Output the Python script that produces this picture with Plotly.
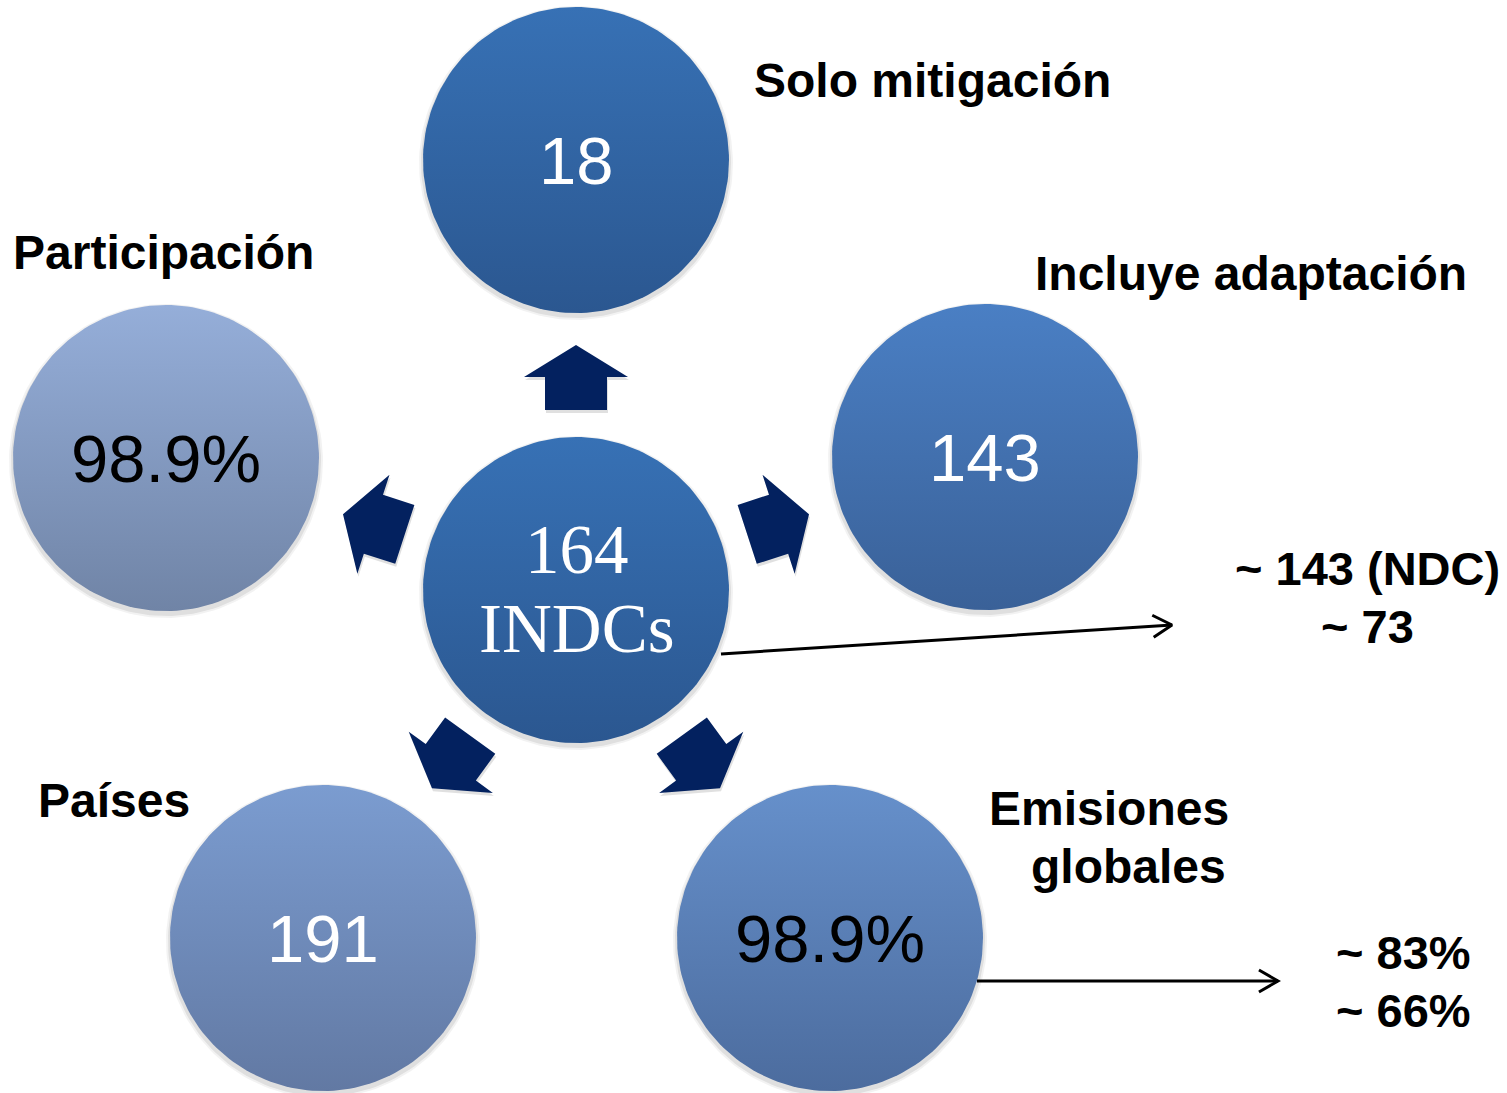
import numpy as np
import plotly.graph_objects as go

W, H = 1507, 1093

# ---- content ----
circle_values = ["18", "143", "98.9%", "191", "98.9%"]
circle_labels = ["Solo mitigación", "Incluye adaptación", "Emisiones<br>globales", "Países", "Participación"]
center_value = "164"
center_label = "INDCs"
note_upper = ["~ 143 (NDC)", "~ 73"]
note_lower = ["~ 83%", "~ 66%"]

# ---- layout (pixel coordinates) ----
center_xy = (576, 590)
circle_cx = [576, 985, 830, 323, 166]
circle_cy = [160, 457, 938, 938, 458]
arrow_angles = [90, 18, -54, -126, 162]
R = 153
circle_top = ["#3771B5", "#4A7FC4", "#6690CB", "#7B9CD0", "#95AED9"]
circle_bot = ["#2B5790", "#3A6198", "#4C6C9E", "#6279A3", "#7084A6"]
value_color = ["white", "white", "black", "white", "black"]
center_top, center_bot = "#3771B5", "#2B5790"
arrow_color = "#03215F"

# label positions: (x, y, xanchor)
label_pos = [
    [(752, 80, "left")],
    [(1033, 273, "left")],
    [(1231, 808, "right"), (1228, 866, "right")],
    [(36, 800, "left")],
    [(11, 252, "left")],
]

fig = go.Figure()
theta = np.linspace(0, 2 * np.pi, 181)


def add_circle(cx, cy, top, bot):
    # soft drop shadow
    for dr, a in [(4, 0.05), (2, 0.08)]:
        fig.add_trace(go.Scatter(
            x=cx + (R + dr) * np.cos(theta), y=cy + 3 + (R + dr) * np.sin(theta),
            mode="lines", line=dict(width=0), fill="toself",
            fillcolor=f"rgba(0,0,0,{a})", hoverinfo="skip", showlegend=False))
    fig.add_trace(go.Scatter(
        x=cx + R * np.cos(theta), y=cy + R * np.sin(theta),
        mode="lines", line=dict(width=0), fill="toself",
        fillgradient=dict(type="vertical", start=cy - R, stop=cy + R,
                          colorscale=[[0, top], [1, bot]]),
        hoverinfo="skip", showlegend=False))


for i in range(5):
    add_circle(circle_cx[i], circle_cy[i], circle_top[i], circle_bot[i])
add_circle(center_xy[0], center_xy[1], center_top, center_bot)

# block arrows
for ang in arrow_angles:
    a = np.radians(ang)
    d = np.array([np.cos(a), -np.sin(a)])
    n = np.array([np.sin(a), np.cos(a)])
    c = np.array(center_xy, dtype=float)
    tip = c + 245 * d
    hb = c + 213 * d
    se = c + 180 * d
    pts = [tip, hb + 52 * n, hb + 31 * n, se + 31 * n, se - 31 * n, hb - 31 * n, hb - 52 * n, tip]
    xs = [p[0] for p in pts]
    ys = [p[1] for p in pts]
    fig.add_trace(go.Scatter(x=[v + 1 for v in xs], y=[v + 3 for v in ys], mode="lines",
                             line=dict(width=0), fill="toself", fillcolor="rgba(0,0,0,0.12)",
                             hoverinfo="skip", showlegend=False))
    fig.add_trace(go.Scatter(x=xs, y=ys, mode="lines", line=dict(width=0), fill="toself",
                             fillcolor=arrow_color, hoverinfo="skip", showlegend=False))


# thin line arrows
def line_arrow(x0, y0, x1, y1):
    v = np.array([x1 - x0, y1 - y0], dtype=float)
    v /= np.linalg.norm(v)
    L = 22
    out = []
    for s in (1, -1):
        ca, sa = np.cos(np.radians(30 * s)), np.sin(np.radians(30 * s))
        r = np.array([v[0] * ca - v[1] * sa, v[0] * sa + v[1] * ca])
        out.append((x1 - L * r[0], y1 - L * r[1]))
    fig.add_trace(go.Scatter(x=[x0, x1, None, out[0][0], x1, out[1][0]],
                             y=[y0, y1, None, out[0][1], y1, out[1][1]],
                             mode="lines", line=dict(color="black", width=3),
                             hoverinfo="skip", showlegend=False))


line_arrow(721, 654, 1172, 625)
line_arrow(977, 981, 1278, 981)

ann = []
sans = "Liberation Sans, Arial, sans-serif"
for i in range(5):
    ann.append(dict(x=circle_cx[i], y=circle_cy[i], text=circle_values[i], showarrow=False,
                    font=dict(family=sans, size=67, color=value_color[i]),
                    xanchor="center", yanchor="middle"))
    for (lx, ly, xa), txt in zip(label_pos[i], circle_labels[i].split("<br>")):
        ann.append(dict(x=lx, y=ly, text=txt, showarrow=False, xanchor=xa, yanchor="middle",
                        font=dict(family=sans, size=48, color="black", weight="bold")))

serif = "Liberation Serif, Times New Roman, serif"
ann.append(dict(x=577, y=550, text=center_value, showarrow=False, xanchor="center", yanchor="middle",
                font=dict(family=serif, size=69, color="white")))
ann.append(dict(x=577, y=629, text=center_label, showarrow=False, xanchor="center", yanchor="middle",
                font=dict(family=serif, size=69, color="white")))

for txt, yy in zip(note_upper, [568, 626]):
    ann.append(dict(x=1367, y=yy, text=txt, showarrow=False, xanchor="center", yanchor="middle",
                    font=dict(family=sans, size=47, color="black", weight="bold")))
for txt, yy in zip(note_lower, [952, 1010]):
    ann.append(dict(x=1473, y=yy, text=txt, showarrow=False, xanchor="right", yanchor="middle",
                    font=dict(family=sans, size=47, color="black", weight="bold")))

fig.update_layout(
    width=W, height=H, margin=dict(l=0, r=0, t=0, b=0),
    paper_bgcolor="white", plot_bgcolor="white",
    xaxis=dict(range=[0, W], visible=False, fixedrange=True),
    yaxis=dict(range=[H, 0], visible=False, fixedrange=True),
    annotations=ann, showlegend=False,
)
fig.write_html("out.html", config={"displayModeBar": False},
               post_script="document.body.style.margin='0';document.body.style.overflow='hidden';")
